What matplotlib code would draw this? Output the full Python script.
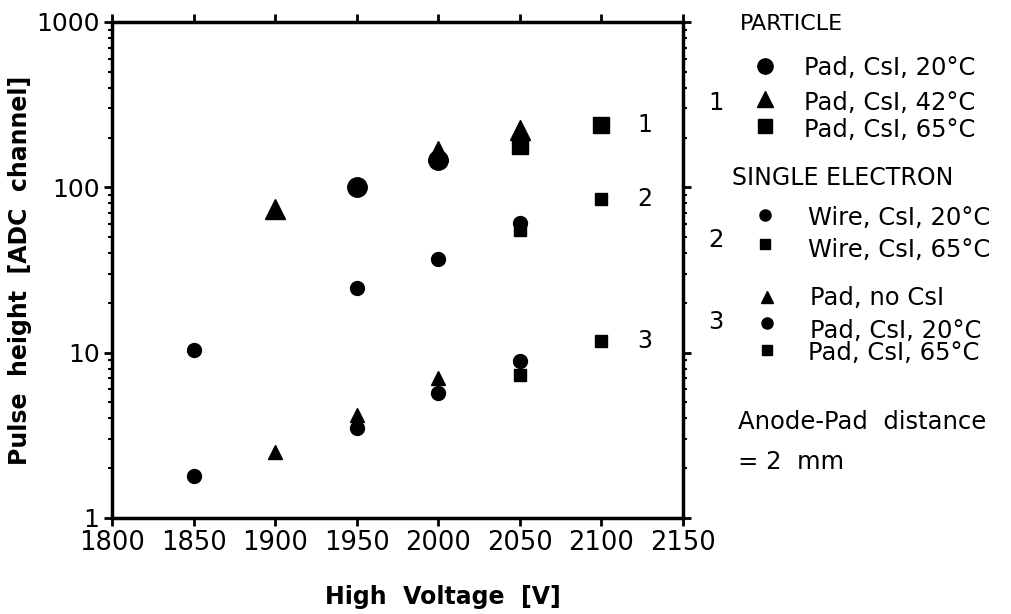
#!/usr/bin/python3

import matplotlib
matplotlib.use('Agg')
import matplotlib.pyplot as plt
from matplotlib.ticker import FixedLocator, LogLocator, NullFormatter

# PARTICLE (group 1)
part_20C_v = [1950, 2000]
part_20C = [100, 146]
part_42C_v = [1900, 2000, 2050]
part_42C = [74, 166, 222]
part_65C_v = [2050, 2100]
part_65C = [178, 237]

# SINGLE ELECTRON, wire readout (group 2)
wire_20C_v = [1850, 1950, 2000, 2050]
wire_20C = [10.4, 24.5, 37, 61]
wire_65C_v = [2050, 2100]
wire_65C = [55, 85]

# SINGLE ELECTRON, pad readout (group 3)
pad_nocsi_v = [1900, 1950, 2000]
pad_nocsi = [2.5, 4.2, 7.0]
pad_20C_v = [1850, 1950, 2000, 2050]
pad_20C = [1.8, 3.5, 5.7, 8.9]
pad_65C_v = [2050, 2100]
pad_65C = [7.3, 11.8]

x_ticks = [1800, 1850, 1900, 1950, 2000, 2050, 2100, 2150]
y_ticks = [1, 10, 100, 1000]
group_labels = ['1', '2', '3']


def main():
	'''main function'''

	plt.rcParams['font.family'] = ['DejaVu Sans']

	fig = plt.figure(figsize=(10.12, 6.14), dpi=100)
	ax = fig.add_axes([0.1107, 0.1564, 0.5642, 0.8078])

	big = 14
	small = 10
	ax.plot(part_20C_v, part_20C, 'o', color='k', ms=big, clip_on=False)
	ax.plot(part_42C_v, part_42C, '^', color='k', ms=big, clip_on=False)
	ax.plot(part_65C_v, part_65C, 's', color='k', ms=big - 2, clip_on=False)
	ax.plot(wire_20C_v, wire_20C, 'o', color='k', ms=small, clip_on=False)
	ax.plot(wire_65C_v, wire_65C, 's', color='k', ms=small - 1, clip_on=False)
	ax.plot(pad_nocsi_v, pad_nocsi, '^', color='k', ms=small, clip_on=False)
	ax.plot(pad_20C_v, pad_20C, 'o', color='k', ms=small, clip_on=False)
	ax.plot(pad_65C_v, pad_65C, 's', color='k', ms=small - 1, clip_on=False)

	# group numbers next to last points
	for lab, xs, ys in zip(group_labels, [part_65C_v, wire_65C_v, pad_65C_v],
	                       [part_65C, wire_65C, pad_65C]):
		ax.annotate(lab, xy=(xs[-1], ys[-1]), xytext=(26, 0),
		            textcoords='offset points', va='center', ha='left', fontsize=17)

	ax.set_yscale('log')
	ax.set_xlim(1800, 2150)
	ax.set_ylim(1, 1000)
	ax.set_xticks(x_ticks)
	ax.set_xticklabels([str(v) for v in x_ticks], fontsize=18.5)
	ax.yaxis.set_major_locator(FixedLocator(y_ticks))
	ax.set_yticklabels([str(v) for v in y_ticks], fontsize=18)
	ax.yaxis.set_minor_locator(LogLocator(base=10, subs=range(2, 10)))
	ax.yaxis.set_minor_formatter(NullFormatter())

	ax.tick_params(axis='both', which='major', direction='out', length=6, width=2,
	               top=True, right=True, pad=3)
	ax.tick_params(axis='y', which='minor', direction='out', length=3, width=1.5,
	               right=True)
	for s in ax.spines.values():
		s.set_linewidth(2.5)

	ax.set_xlabel('High  Voltage  [V]', fontsize=17, fontweight='bold')
	ax.xaxis.set_label_coords(0.58, -0.135)
	ax.set_ylabel('Pulse  height  [ADC  channel]', fontsize=17, fontweight='bold')
	ax.yaxis.set_label_coords(-0.14, 0.5)

	# legend block at the right
	fs = 17.5
	def px(x, y):
		return x / 1012.0, 1 - y / 614.0

	def mark(x, y, m, size):
		fig.add_artist(plt.Line2D([px(x, y)[0]], [px(x, y)[1]], marker=m, color='k',
		                          ms=size, linestyle='none', transform=fig.transFigure))

	def txt(x, y, s, size=fs):
		fig.text(*px(x, y), s, fontsize=size, va='center', ha='left')

	txt(740, 24, 'PARTICLE', 16)
	mark(765, 66, 'o', 11)
	txt(804, 68, 'Pad, CsI, 20°C')
	mark(765, 99, '^', 11)
	txt(804, 103, 'Pad, CsI, 42°C')
	mark(765, 126, 's', 10)
	txt(804, 130, 'Pad, CsI, 65°C')
	txt(708, 103, '1')

	txt(732, 178, 'SINGLE ELECTRON', 17)
	mark(765, 215, 'o', 8)
	txt(808, 218, 'Wire, CsI, 20°C')
	mark(765, 244, 's', 7)
	txt(808, 250, 'Wire, CsI, 65°C')
	txt(708, 240, '2')

	mark(767, 297, '^', 9)
	txt(810, 298, 'Pad, no CsI')
	mark(767, 323, 'o', 8)
	txt(810, 331, 'Pad, CsI, 20°C')
	mark(767, 350, 's', 7)
	txt(808, 353, 'Pad, CsI, 65°C')
	txt(708, 322, '3')

	txt(738, 422, 'Anode-Pad  distance')
	txt(738, 462, '= 2  mm')

	fig.savefig('out.png', dpi=100)


if __name__ == '__main__':
	main()
